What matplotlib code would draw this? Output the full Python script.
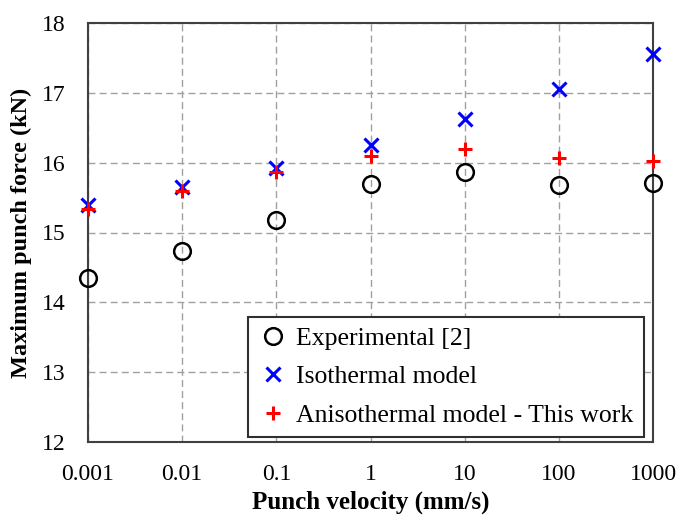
import matplotlib
matplotlib.use("Agg")
import matplotlib.pyplot as plt

velocity = [0.001, 0.01, 0.1, 1, 10, 100, 1000]
experimental = [14.35, 14.74, 15.18, 15.69, 15.86, 15.68, 15.71]
isothermal = [15.40, 15.65, 15.93, 16.25, 16.63, 17.05, 17.55]
anisothermal = [15.33, 15.59, 15.86, 16.10, 16.19, 16.07, 16.03]
xtick_labels = ["0.001", "0.01", "0.1", "1", "10", "100", "1000"]

plt.rcParams['font.family'] = ['Liberation Serif', 'DejaVu Serif']
fs = 17.5

fig = plt.figure(figsize=(6.81, 5.16), dpi=100)
ax = fig.add_axes([88/681, 1 - 442/516, (653-88)/681, (442-23)/516])

ax.plot(velocity, experimental, linestyle='none', marker='o', ms=12, mfc='none',
        mec='black', mew=1.8, label='Experimental [2]', clip_on=False, zorder=3)
ax.plot(velocity, isothermal, linestyle='none', marker='x', ms=10, color='blue',
        mew=2.2, label='Isothermal model', clip_on=False, zorder=4)
ax.plot(velocity, anisothermal, linestyle='none', marker='+', ms=10.5, color='red',
        mew=2.2, label='Anisothermal model - This work', clip_on=False, zorder=5)

ax.set_xscale('log')
ax.set_xlim(0.001, 1000)
ax.set_ylim(12, 18)
ax.set_xticks(velocity)
ax.set_xticklabels(xtick_labels)
ax.minorticks_off()
ax.set_yticks([12, 13, 14, 15, 16, 17, 18])
ax.tick_params(length=0, labelsize=17)
ax.tick_params(axis='x', pad=16)
ax.tick_params(axis='y', pad=16)
ax.grid(True, color='#a0a0a0', linestyle=(0, (5, 3)), linewidth=1.0)
ax.set_axisbelow(True)
for s in ax.spines.values():
    s.set_color('#404040')
    s.set_linewidth(1.5)

ax.set_xlabel('Punch velocity (mm/s)', fontsize=18, fontweight='bold', labelpad=4)
ax.set_ylabel('Maximum punch force (kN)', fontsize=fs, fontweight='bold', labelpad=7)

leg = ax.legend(loc='lower right', bbox_to_anchor=(644/681, 1 - 437/516),
                bbox_transform=fig.transFigure, fontsize=18.5, frameon=True,
                fancybox=False, edgecolor='#303030', framealpha=1,
                handletextpad=0.3, handlelength=1.2, borderpad=0.4,
                labelspacing=0.6, borderaxespad=0, handleheight=0.7)
leg.get_frame().set_linewidth(1.5)

fig.savefig('out.png', dpi=100)
